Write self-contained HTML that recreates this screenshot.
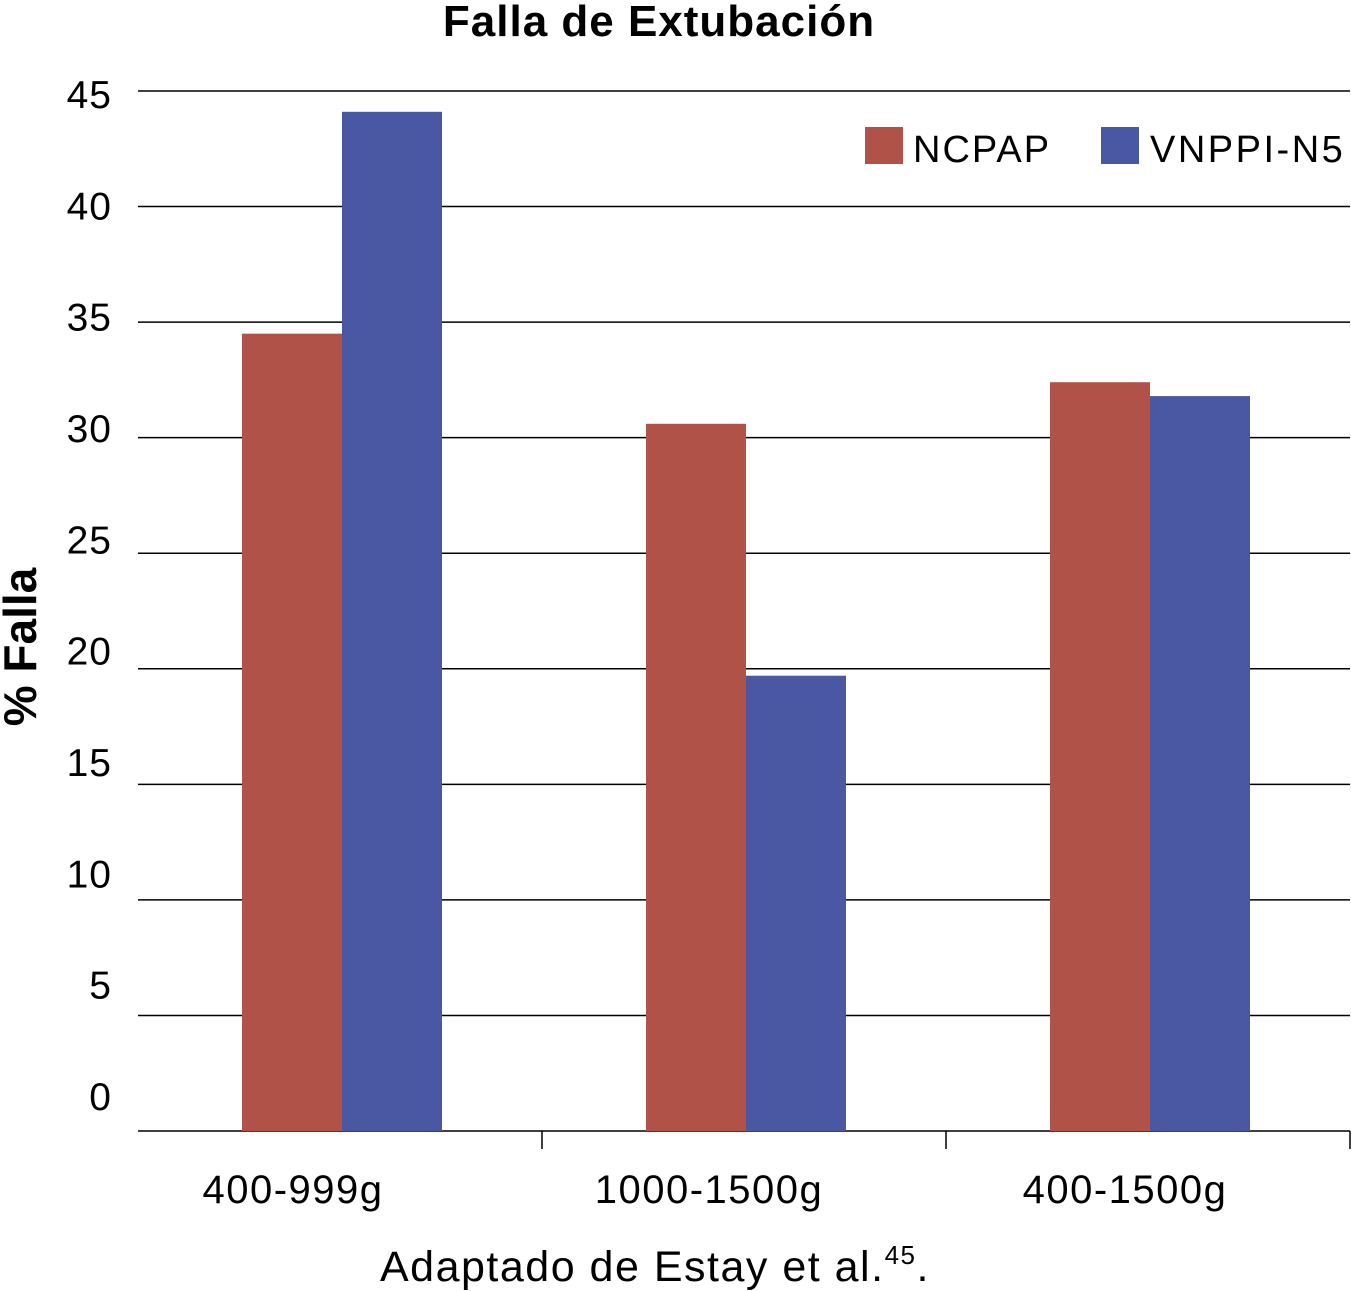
<!DOCTYPE html>
<html><head><meta charset="utf-8"><style>
html,body{margin:0;padding:0;background:#fff;}
svg{display:block;font-family:"Liberation Sans",sans-serif;}
</style></head><body>
<svg id="chart" width="1351" height="1291" viewBox="0 0 1351 1291">
<text x="659" y="36" text-anchor="middle" font-size="44" font-weight="bold" letter-spacing="1">Falla de Extubación</text>
<text transform="translate(36,647) rotate(-90)" text-anchor="middle" font-size="46" font-weight="bold">% Falla</text>
<g id="grid"></g><g id="bars"></g><g id="xaxis"></g>
<g>
<rect x="865" y="127" width="38" height="37" fill="#b05248"/>
<text x="913" y="162" font-size="38" letter-spacing="2">NCPAP</text>
<rect x="1101" y="127" width="38" height="37" fill="#4a58a4"/>
<text x="1150" y="162" font-size="38" letter-spacing="2.5">VNPPI-N5</text>
</g>
<text x="380" y="1281" font-size="43" letter-spacing="1.5">Adaptado de Estay et al.<tspan font-size="26" dy="-17">45</tspan><tspan dy="17">.</tspan></text>
</svg>
<script>
const categories = ["400-999g","1000-1500g","400-1500g"];
const ncpap = [34.5, 30.6, 32.4];
const vnppi = [44.1, 19.7, 31.8];
const yTicks = [0,5,10,15,20,25,30,35,40,45];
const ns="http://www.w3.org/2000/svg";
const x0=138,x1=1350,yBase=1131,yTop=91,yMax=45;
const y=v=>yBase-(yBase-yTop)*v/yMax;
const yl=v=>1110-(1110-108)*v/yMax;
const bw=(x1-x0)/categories.length;
const cx=i=>x0+bw*(i+0.5);
function mk(tag,attrs,parent){const e=document.createElementNS(ns,tag);for(const k in attrs)e.setAttribute(k,attrs[k]);parent.appendChild(e);return e;}
const grid=document.getElementById('grid'),bars=document.getElementById('bars'),xa=document.getElementById('xaxis');
yTicks.forEach(t=>{
 const l=mk('line',{x1:x0,x2:x1,y1:y(t),y2:y(t),stroke:'#000','stroke-width':1.5},grid);
 
 
 const tx=mk('text',{x:112,y:yl(t),'text-anchor':'end','font-size':39,'letter-spacing':1},grid);
 tx.textContent=t;
 
 
});
categories.forEach((c,i)=>{
 const r1=mk('rect',{x:cx(i)-98,y:y(ncpap[i]),width:100,height:yBase-y(ncpap[i]),fill:'#b05248'},bars);
 
 
 const r2=mk('rect',{x:cx(i)+2,y:y(vnppi[i]),width:100,height:yBase-y(vnppi[i]),fill:'#4a58a4'},bars);
 
 
 const tx=mk('text',{x:cx(i)-47+12*i,y:1203,'text-anchor':'middle','font-size':40,'letter-spacing':1.5},xa);
 tx.textContent=c;
 
 
 const tk=mk('line',{x1:x0+bw*(i+1),x2:x0+bw*(i+1),y1:yBase,y2:1149,stroke:'#000','stroke-width':1.5},xa);
 
 
});
</script>
</body></html>
